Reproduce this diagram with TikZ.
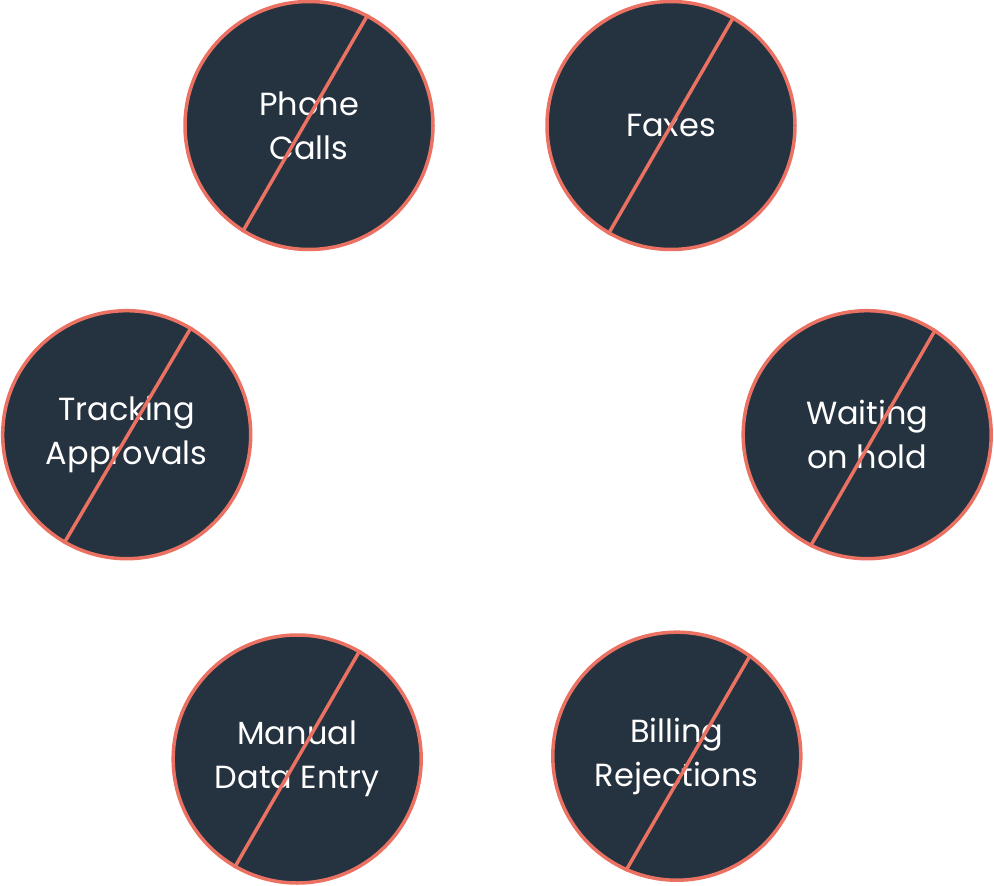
\documentclass[tikz,border=0pt]{standalone}
\usepackage{fontspec}
\setmainfont{Poppins}
\usepackage{tikz}

\definecolor{slate}{HTML}{253240}
\definecolor{salmon}{HTML}{EB7262}

\tikzset{
  nobubble/.style={circle, draw=salmon, fill=slate, line width=3.5pt,
    minimum size=248pt, inner sep=0pt, align=center, text=white,
    font=\fontsize{32}{44}\selectfont},
  strike/.style={draw=salmon, line width=3.5pt}
}

\begin{document}
\begin{tikzpicture}[x=1pt,y=-1pt]

\useasboundingbox (0,0) rectangle (994,886);

\node[nobubble] (phone) at (309,125.5) {Phone\\Calls};
\node[nobubble] (faxes) at (671,125.5) {Faxes};
\node[nobubble] (tracking) at (126.7,434.7) {Tracking\\Approvals};
\node[nobubble] (waiting) at (867.2,434.7) {Waiting\\on hold};
\node[nobubble] (manual) at (297.2,759) {Manual\\Data Entry};
\node[nobubble] (billing) at (676.8,756.2) {Billing\\Rejections};

% the strike-through lines
\draw[strike] (phone.62.6) -- (phone.238.3);
\draw[strike] (faxes.60.8) -- (faxes.240);
\draw[strike] (tracking.59.6) -- (tracking.240.6);
\draw[strike] (waiting.57) -- (waiting.243.8);
\draw[strike] (manual.60.5) -- (manual.240);
\draw[strike] (billing.54.2) -- (billing.246.5);

\end{tikzpicture}
\end{document}
